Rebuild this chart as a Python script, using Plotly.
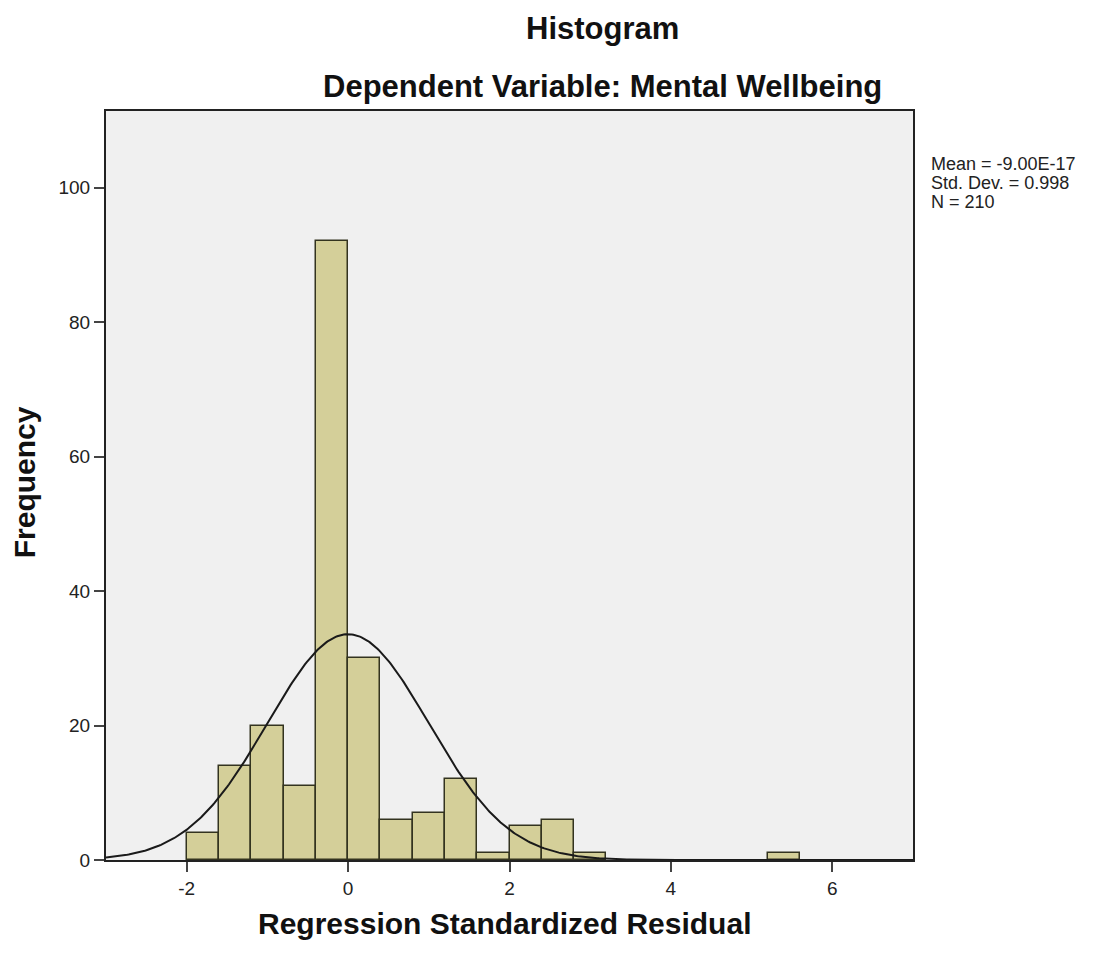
import numpy as np
import plotly.graph_objects as go

# Data
bin_starts = [-2.0, -1.6, -1.2, -0.8, -0.4, 0.0, 0.4, 0.8, 1.2, 1.6, 2.0, 2.4, 2.8, 5.2]
frequencies = [4, 14, 20, 11, 92, 30, 6, 7, 12, 1, 5, 6, 1, 1]
bin_width = 0.4
mean_val = -9.00e-17
sd_val = 0.998
n_val = 210
x_ticks = [-2, 0, 2, 4, 6]
y_ticks = [0, 20, 40, 60, 80, 100]
stats_lines = ["Mean = -9.00E-17", f"Std. Dev. = {sd_val:.3f}", f"N = {n_val}"]

centers = [b + bin_width / 2 for b in bin_starts]

xs = np.linspace(-3, 7, 500)
ys = n_val * bin_width / (sd_val * np.sqrt(2 * np.pi)) * np.exp(-0.5 * ((xs - mean_val) / sd_val) ** 2)

fig = go.Figure()
fig.add_trace(go.Bar(
    x=centers, y=frequencies, width=[bin_width] * len(centers),
    marker=dict(color="#D4CF99", line=dict(color="#33331f", width=1.5)),
    showlegend=False, hoverinfo="skip",
))
fig.add_trace(go.Scatter(
    x=xs, y=ys, mode="lines", line=dict(color="#1a1a1a", width=2),
    showlegend=False, hoverinfo="skip",
))

font_family = "Liberation Sans, Arial, sans-serif"

# pixel geometry helpers
L, R, T, B = 106, 913, 111, 860.5
def px(xp):
    return (xp - L) / (R - L)
def py(yp):
    return (B - yp) / (B - T)

fig.update_layout(
    width=1103, height=954,
    margin=dict(l=L, r=1103 - R, t=T, b=954 - B),
    paper_bgcolor="white",
    plot_bgcolor="#F0F0F0",
    bargap=0,
    font=dict(family=font_family, color="#222222"),
    xaxis=dict(
        range=[-3, 7], tickvals=x_ticks, ticktext=[str(v) for v in x_ticks],
        showgrid=False, zeroline=False,
        showline=True, mirror=True, linecolor="#222222", linewidth=2,
        ticks="outside", ticklen=10, tickwidth=2, tickcolor="#444444",
        tickfont=dict(size=19, color="#222222"),
    ),
    yaxis=dict(
        range=[0, 111.4], tickvals=y_ticks, ticktext=[str(v) for v in y_ticks],
        showgrid=False, zeroline=False,
        showline=True, mirror=True, linecolor="#222222", linewidth=2,
        ticks="outside", ticklen=10, tickwidth=2, tickcolor="#444444",
        tickfont=dict(size=19, color="#222222"),
    ),
)

fig.add_annotation(
    text="<b>Histogram</b>", xref="paper", yref="paper",
    x=px(602.5), y=py(28), showarrow=False, xanchor="center", yanchor="middle",
    font=dict(size=31, color="#111111"),
)
fig.add_annotation(
    text="<b>Dependent Variable: Mental Wellbeing</b>", xref="paper", yref="paper",
    x=px(602.5), y=py(86), showarrow=False, xanchor="center", yanchor="middle",
    font=dict(size=31, color="#111111"),
)
fig.add_annotation(
    text="<b>Regression Standardized Residual</b>", xref="paper", yref="paper",
    x=px(504.5), y=py(924), showarrow=False, xanchor="center", yanchor="middle",
    font=dict(size=30, color="#111111"),
)
fig.add_annotation(
    text="<b>Frequency</b>", xref="paper", yref="paper", textangle=-90,
    x=px(24), y=py(482.5), showarrow=False, xanchor="center", yanchor="middle",
    font=dict(size=30, color="#111111"),
)
for i, line in enumerate(stats_lines):
    fig.add_annotation(
        text=line, xref="paper", yref="paper",
        x=px(929), y=py(164 + 19 * i),
        showarrow=False, xanchor="left", yanchor="middle", align="left",
        font=dict(size=18, color="#222222"),
    )

fig.write_html("out.html")
